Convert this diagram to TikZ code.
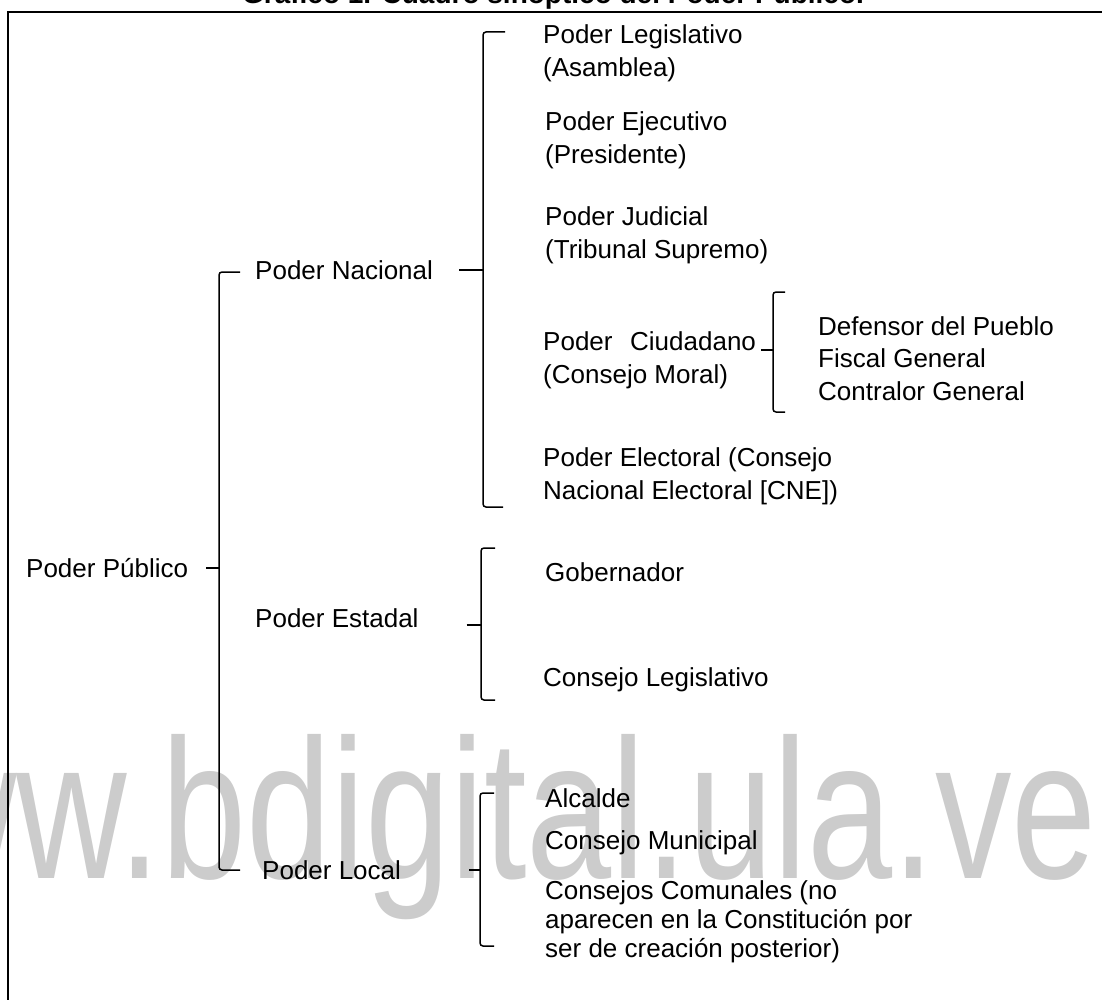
\documentclass[tikz,border=0pt]{standalone}
\usepackage{fontspec}
\setmainfont{Liberation Sans}

\begin{document}
\begin{tikzpicture}[x=1pt, y=-1pt,
every node/.style = {anchor=west, inner sep=0pt, align=left, font=\fontsize{26}{33}\selectfont},
brace/.style = {line width=1.5pt, rounded corners=3pt},
tick/.style = {line width=1.5pt}]
\useasboundingbox (0,0) rectangle (1102,1000);
\clip (0,0) rectangle (1102,1000);
% watermark
\node[anchor=base east, text=black!20, font=\fontsize{153}{153}\selectfont] (wm) at (1097,878) {\scalebox{1}[1.3]{www.bdigital.ula.ve}};
% title, cut off by the page
\node[anchor=base, font=\bfseries\fontsize{28}{28}\selectfont] (tit) at (553,4) {Gráfico 1. Cuadro sinóptico del Poder Público.};
% frame
\draw[line width=1.5pt] (8,1020) -- (8,12) -- (1120,12);

% level 1
\node (pub) at (26,568) {Poder Público};
\node (nac) at (255,270) {Poder Nacional};
\node (est) at (255,618) {Poder Estadal};
\node (loc) at (262,870) {Poder Local};

% poder nacional
\node (leg) at (543,53) {Poder Legislativo\\(Asamblea)};
\node (eje) at (545,140) {Poder Ejecutivo\\(Presidente)};
\node (jud) at (545,235) {Poder Judicial\\(Tribunal Supremo)};
\node (ciu) at (543,360) {Poder\hspace{0.4em} Ciudadano\\(Consejo Moral)};
\node (ele) at (543,476) {Poder Electoral (Consejo\\Nacional Electoral [CNE])};
\node (def) at (818,326) {Defensor del Pueblo};
\node (fis) at (818,358) {Fiscal General};
\node (con) at (818,391) {Contralor General};

% poder estadal
\node (gob) at (545,572) {Gobernador};
\node (cle) at (543,680) {Consejo Legislativo};

% poder local
\node (alc) at (545,798) {Alcalde};
\node (cmu) at (545,843) {Consejo Municipal};
\node[font=\fontsize{26}{29}\selectfont] (cco) at (545,922) {Consejos Comunales (no\\aparecen en la Constitución por\\ser de creación posterior)};

% braces
\coordinate (pubtop) at (219,272);
\coordinate (pubbot) at (219,870);
\draw[brace] ([xshift=21pt]pubtop) -- (pubtop) -- (pubbot) -- ([xshift=21pt]pubbot);
\draw[tick] ([xshift=18pt]pub.east) -- (pub.east -| pubtop);

\coordinate (nactop) at (483,32);
\coordinate (nacbot) at (483,507);
\draw[brace] ([xshift=22pt]nactop) -- (nactop) -- (nacbot) -- ([xshift=20pt]nacbot);
\draw[tick] ([xshift=26pt]nac.east) -- (nac.east -| nactop);

\coordinate (ciutop) at (773,292);
\coordinate (ciubot) at (773,412);
\draw[brace] ([xshift=12pt]ciutop) -- (ciutop) -- (ciubot) -- ([xshift=12pt]ciubot);
\draw[tick] ([xshift=5pt,yshift=10pt]ciu.east) -- ([yshift=10pt]ciu.east -| ciutop);

\coordinate (esttop) at (481,548);
\coordinate (estbot) at (481,700);
\draw[brace] ([xshift=14pt]esttop) -- (esttop) -- (estbot) -- ([xshift=14pt]estbot);
\draw[tick] ([xshift=48pt,yshift=-7pt]est.east) -- ([yshift=-7pt]est.east -| esttop);

\coordinate (loctop) at (480,793);
\coordinate (locbot) at (480,946);
\draw[brace] ([xshift=14pt]loctop) -- (loctop) -- (locbot) -- ([xshift=14pt]locbot);
\draw[tick] ([xshift=68pt]loc.east) -- (loc.east -| loctop);
\end{tikzpicture}
\end{document}
